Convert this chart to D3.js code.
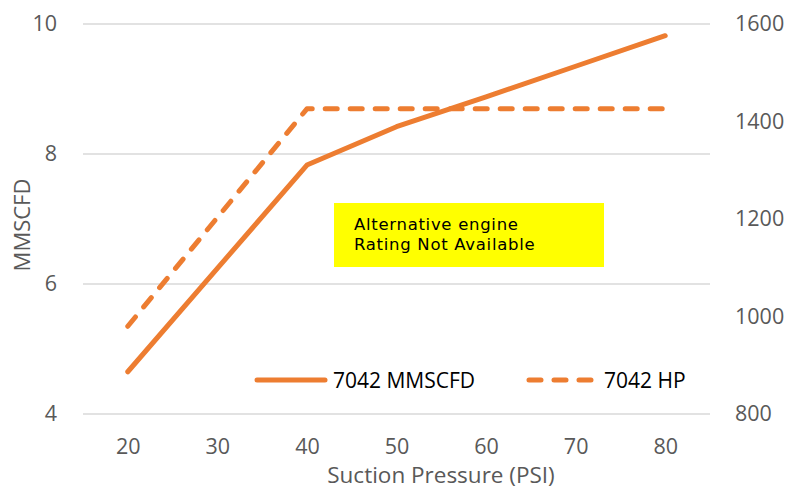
<!DOCTYPE html>
<html><head><meta charset="utf-8">
<script src="https://cdn.jsdelivr.net/npm/d3@7"></script>
<style>
body{margin:0;background:#fff;}
svg text{font-family:"Open Sans",sans-serif;}
</style></head>
<body>
<svg id="c" width="786" height="491"></svg>
<script>
const categories = [20, 30, 40, 50, 60, 70, 80];
const mmscfd = [4.65, 6.24, 7.83, 8.42, 8.88, 9.35, 9.82];
const hp = [980, 1203, 1426, 1426, 1426, 1426, 1426];
const leftTicks = [4, 6, 8, 10];
const rightTicks = [800, 1000, 1200, 1400, 1600];
const seriesNames = ["7042 MMSCFD", "7042 HP"];
const noteLines = ["Alternative engine", "Rating Not Available"];

const svg = d3.select("#c");
const L = 83, R = 710, T = 24, B = 414;
const color = "#ED7D31";
const x = d3.scalePoint().domain(categories).range([L, R]).padding(0.5);
const y = d3.scaleLinear().domain([4, 10]).range([B, T]);
const y2 = d3.scaleLinear().domain([800, 1600]).range([B, T]);
const fmt = d3.format("d");

// gridlines
svg.append("g").selectAll("line").data(leftTicks).join("line")
  .attr("x1", L).attr("x2", R).attr("y1", d => y(d)).attr("y2", d => y(d))
  .attr("stroke", "#d9d9d9").attr("stroke-width", 1.3);

// left axis
const la = svg.append("g").attr("transform", `translate(${L},0)`)
  .call(d3.axisLeft(y).tickValues(leftTicks).tickFormat(fmt).tickSize(0).tickPadding(26));
la.select(".domain").remove();
la.selectAll("text").attr("fill", "#595959").style("font-size", "21.5px");

// right axis
const ra = svg.append("g").attr("transform", `translate(${R},0)`)
  .call(d3.axisRight(y2).tickValues(rightTicks).tickFormat(fmt).tickSize(0).tickPadding(25));
ra.select(".domain").remove();
ra.selectAll("text").attr("fill", "#595959").style("font-size", "21.5px");

// bottom axis
const ba = svg.append("g").attr("transform", `translate(0,${B})`)
  .call(d3.axisBottom(x).tickFormat(fmt).tickSize(0).tickPadding(25));
ba.select(".domain").remove();
ba.selectAll("text").attr("fill", "#595959").style("font-size", "21.5px");

// axis titles
svg.append("text").attr("transform", `translate(30,225) rotate(-90)`)
  .attr("text-anchor", "middle").attr("fill", "#595959").style("font-size", "22px").text("MMSCFD");
svg.append("text").attr("x", 441).attr("y", 483)
  .attr("text-anchor", "middle").attr("fill", "#595959").style("font-size", "22.5px").text("Suction Pressure (PSI)");

// lines
const line1 = d3.line().x((d, i) => x(categories[i])).y(d => y(d));
const line2 = d3.line().x((d, i) => x(categories[i])).y(d => y2(d));
svg.append("path").datum(mmscfd).attr("d", line1).attr("fill", "none")
  .attr("stroke", color).attr("stroke-width", 5).attr("stroke-linecap", "round").attr("stroke-linejoin", "round");
svg.append("path").datum(hp).attr("d", line2).attr("fill", "none")
  .attr("stroke", color).attr("stroke-width", 5).attr("stroke-linecap", "round").attr("stroke-linejoin", "round")
  .attr("stroke-dasharray", "12,13");

// note box
svg.append("rect").attr("x", 334).attr("y", 203).attr("width", 270).attr("height", 64).attr("fill", "#FFFF00");
svg.append("g").selectAll("text").data(noteLines).join("text")
  .attr("x", 354).attr("y", (d, i) => 230 + i * 20)
  .style("font-family", "'DejaVu Sans', sans-serif").style("font-size", "16.5px")
  .style("letter-spacing", "0.7px").attr("fill", "#000").text(d => d);

// legend
const lg = svg.append("g");
lg.append("line").attr("x1", 257).attr("x2", 325).attr("y1", 380).attr("y2", 380)
  .attr("stroke", color).attr("stroke-width", 5).attr("stroke-linecap", "round");
lg.append("text").attr("x", 333).attr("y", 388).style("font-size", "21px").attr("fill", "#000").text(seriesNames[0]);
lg.append("line").attr("x1", 529).attr("x2", 592).attr("y1", 380).attr("y2", 380)
  .attr("stroke", color).attr("stroke-width", 5).attr("stroke-linecap", "round").attr("stroke-dasharray", "12,13");
lg.append("text").attr("x", 604).attr("y", 388).style("font-size", "21px").attr("fill", "#000").text(seriesNames[1]);
</script>
</body></html>
